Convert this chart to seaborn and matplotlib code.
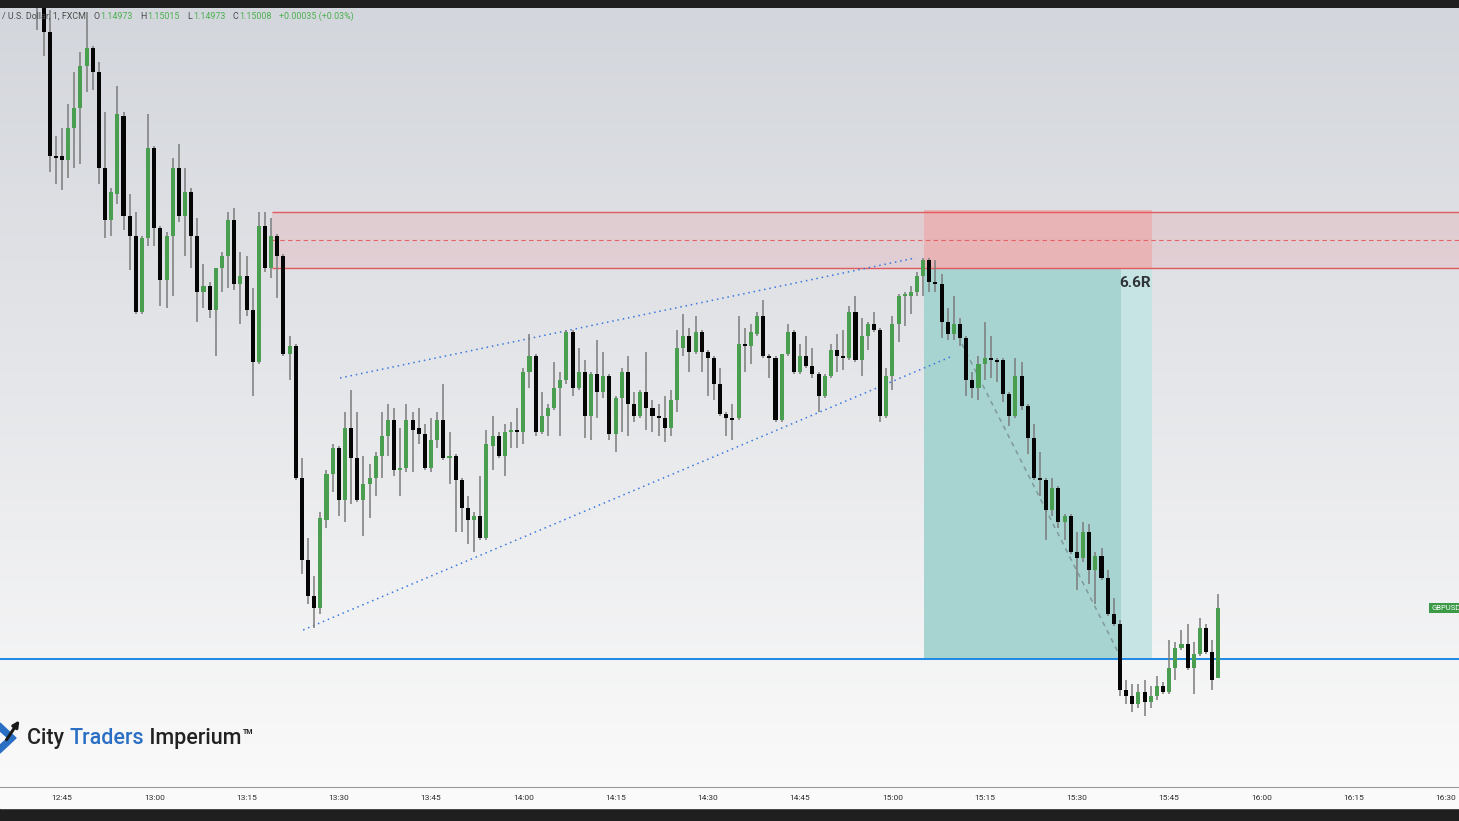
import numpy as np
import pandas as pd
import matplotlib
matplotlib.use("Agg")
import matplotlib.pyplot as plt
import seaborn as sns
from matplotlib.colors import LinearSegmentedColormap
from matplotlib.offsetbox import TextArea, HPacker, AnchoredOffsetbox
from matplotlib.patches import Rectangle, Polygon, FancyArrowPatch

# 1-minute GBP/USD candles, first one at 12:41 (minutes counted from 12:45)
# prices in 1e-5 units
first_minute = -4
opens = [115322,
         115314, 115296, 115234, 115234, 115232, 115248, 115258, 115279, 115288, 115276,
         115228, 115202, 115215, 115254, 115204, 115194, 115156, 115193, 115238, 115198,
         115172, 115194, 115228, 115204, 115216, 115194,
         115166, 115169, 115157, 115178, 115184, 115202, 115170, 115174, 115157, 115131,
         115199, 115178, 115194, 115184, 115135, 115139, 115073, 115032, 115014, 115008,
         115052, 115075, 115088, 115062, 115098, 115083,
         115062, 115070, 115073, 115084, 115094, 115102, 115077, 115078, 115102, 115098,
         115095, 115078, 115092, 115102, 115083, 115084, 115072, 115058, 115052, 115054,
         115043, 115089, 115094, 115084, 115096, 115097,
         115096, 115126, 115134, 115096, 115104, 115108, 115118, 115122, 115146, 115118,
         115126, 115104, 115125, 115116, 115124, 115095, 115113, 115126, 115110, 115104,
         115116, 115108, 115104, 115103, 115098, 115112,
         115138, 115144, 115136, 115146, 115136, 115133, 115120, 115105, 115103, 115103,
         115140, 115139, 115145, 115154, 115134, 115133, 115102, 115135, 115146, 115126,
         115134, 115129, 115125, 115114, 115124, 115137,
         115134, 115133, 115156, 115132, 115144, 115150, 115147, 115104, 115124, 115150,
         115164, 115164, 115166, 115174, 115182, 115171, 115170, 115151, 115145, 115150,
         115143, 115122, 115118, 115130, 115133, 115132,
         115132, 115115, 115104, 115124, 115109, 115093, 115073, 115072, 115057, 115068,
         115051, 115054, 115036, 115033, 115046, 115027, 115034, 115023, 115005, 115000,
         114967, 114964, 114960, 114966, 114961, 114964,
         114969, 114966, 114978, 114988, 114990, 114978, 114985, 114998, 114986, 114973]
highs = [115327,
         115318, 115307, 115244, 115248, 115260, 115276, 115286, 115306, 115289, 115281,
         115256, 115218, 115269, 115256, 115215, 115206, 115194, 115255, 115239, 115199,
         115196, 115233, 115240, 115228, 115218, 115203,
         115180, 115171, 115178, 115186, 115206, 115208, 115186, 115184, 115168, 115206,
         115206, 115203, 115195, 115185, 115144, 115140, 115083, 115043, 115024, 115056,
         115077, 115090, 115089, 115106, 115117, 115106,
         115084, 115080, 115086, 115106, 115110, 115108, 115098, 115110, 115106, 115108,
         115100, 115103, 115106, 115120, 115096, 115085, 115073, 115064, 115056, 115074,
         115097, 115104, 115096, 115100, 115101, 115108,
         115128, 115145, 115135, 115116, 115110, 115131, 115126, 115147, 115147, 115138,
         115132, 115126, 115142, 115136, 115125, 115114, 115128, 115134, 115116, 115117,
         115136, 115112, 115110, 115114, 115117, 115147,
         115155, 115148, 115154, 115147, 115137, 115134, 115128, 115106, 115110, 115154,
         115148, 115150, 115156, 115162, 115135, 115134, 115135, 115150, 115147, 115140,
         115144, 115138, 115126, 115125, 115140, 115145,
         115147, 115159, 115164, 115153, 115151, 115156, 115148, 115128, 115154, 115165,
         115166, 115169, 115176, 115183, 115183, 115182, 115175, 115158, 115164, 115153,
         115144, 115126, 115134, 115151, 115144, 115133,
         115133, 115116, 115133, 115131, 115110, 115100, 115086, 115073, 115073, 115069,
         115055, 115055, 115046, 115051, 115050, 115036, 115038, 115027, 115013, 115002,
         114972, 114970, 114970, 114972, 114969, 114974,
         114971, 114992, 114991, 114997, 115000, 114991, 115003, 115000, 114992, 115015]
lows = [115297,
        115284, 115226, 115220, 115217, 115223, 115228, 115230, 115266, 115267, 115220,
        115193, 115194, 115210, 115197, 115177, 115155, 115155, 115189, 115189, 115159,
        115158, 115164, 115201, 115184, 115178, 115151,
        115158, 115153, 115134, 115166, 115168, 115167, 115150, 115154, 115114, 115130,
        115176, 115173, 115163, 115134, 115122, 115072, 115025, 115010, 114998, 115005,
        115048, 115066, 115054, 115051, 115060, 115061,
        115044, 115053, 115064, 115073, 115084, 115074, 115064, 115076, 115076, 115090,
        115077, 115076, 115088, 115082, 115070, 115046, 115046, 115040, 115036, 115042,
        115042, 115077, 115083, 115074, 115088, 115088,
        115090, 115118, 115094, 115095, 115094, 115107, 115094, 115120, 115114, 115117,
        115093, 115092, 115103, 115113, 115092, 115086, 115096, 115094, 115101, 115103,
        115097, 115096, 115094, 115091, 115094, 115106,
        115134, 115126, 115135, 115126, 115114, 115112, 115104, 115094, 115092, 115102,
        115126, 115130, 115144, 115133, 115123, 115101, 115101, 115134, 115125, 115125,
        115128, 115123, 115106, 115113, 115123, 115126,
        115127, 115132, 115131, 115124, 115137, 115146, 115101, 115103, 115117, 115141,
        115149, 115155, 115164, 115164, 115166, 115166, 115143, 115142, 115142, 115139,
        115114, 115113, 115112, 115122, 115123, 115121,
        115111, 115099, 115103, 115107, 115085, 115072, 115064, 115042, 115054, 115048,
        115042, 115035, 115017, 115031, 115020, 115010, 115022, 115004, 114999, 114964,
        114960, 114956, 114958, 114954, 114958, 114962,
        114965, 114965, 114972, 114987, 114977, 114965, 114984, 114985, 114967, 114973]
closes = [115314,
          115296, 115234, 115233, 115232, 115248, 115258, 115279, 115288, 115276, 115228,
          115202, 115216, 115255, 115204, 115194, 115156, 115193, 115238, 115198, 115172,
          115194, 115228, 115204, 115216, 115194, 115166,
          115169, 115157, 115178, 115184, 115202, 115170, 115174, 115157, 115131, 115199,
          115178, 115194, 115184, 115135, 115139, 115073, 115032, 115014, 115008, 115053,
          115075, 115088, 115062, 115098, 115083, 115062,
          115070, 115073, 115084, 115094, 115102, 115077, 115078, 115102, 115097, 115095,
          115078, 115092, 115102, 115083, 115084, 115072, 115058, 115052, 115054, 115043,
          115090, 115094, 115084, 115096, 115097, 115096,
          115126, 115134, 115096, 115104, 115108, 115118, 115122, 115146, 115118, 115126,
          115104, 115125, 115116, 115124, 115095, 115113, 115126, 115110, 115104, 115116,
          115108, 115104, 115103, 115098, 115112, 115138,
          115144, 115136, 115146, 115136, 115133, 115120, 115105, 115103, 115102, 115140,
          115139, 115146, 115154, 115134, 115133, 115102, 115135, 115146, 115126, 115134,
          115129, 115125, 115114, 115124, 115137, 115134,
          115133, 115156, 115132, 115144, 115150, 115147, 115104, 115124, 115150, 115164,
          115165, 115166, 115174, 115182, 115171, 115170, 115151, 115145, 115150, 115143,
          115122, 115118, 115130, 115133, 115132, 115131,
          115115, 115104, 115124, 115109, 115093, 115073, 115072, 115057, 115068, 115051,
          115054, 115036, 115033, 115046, 115027, 115034, 115023, 115005, 115000, 114967,
          114964, 114960, 114966, 114961, 114964, 114969,
          114966, 114978, 114988, 114990, 114978, 114985, 114998, 114986, 114972, 115008]

tick_minutes = list(range(0, 226, 15))
tick_labels = ["12:45", "13:00", "13:15", "13:30", "13:45", "14:00", "14:15", "14:30",
               "14:45", "15:00", "15:15", "15:30", "15:45", "16:00", "16:15", "16:30"]

# supply zone / short position
zone_top, zone_mid, zone_bottom = 1.15206, 1.15192, 1.15178
zone_start = 34.2
target_price = 1.149825
trade_start, trade_hit, trade_end = 140.2, 172.2, 177.2
rr_label = "6.6R"

# drawn lines (minute, price)
upper_line_t, upper_line_p = [45.2, 138.7], [1.15123, 1.15183]
lower_line_t, lower_line_p = [39.2, 144.4], [1.14997, 1.151335]
move_line_t, move_line_p = [146.3, 172.0], [1.15140, 1.14984]

header_values = [("O", "1.14973"), ("H", "1.15015"), ("L", "1.14973"), ("C", "1.15008")]
header_change = "+0.00035 (+0.03%)"

df = pd.DataFrame({"open": opens, "high": highs, "low": lows, "close": closes}) / 1e5
df["minute"] = first_minute + np.arange(len(df))

sns.set_theme(style="white")
plt.rcParams["font.family"] = ["Roboto", "DejaVu Sans"]

W, H = 1459, 821
fig = plt.figure(figsize=(W / 100, H / 100), dpi=100, facecolor="#1f1f1f")
ax = fig.add_axes([0, 34 / H, 1, 779 / H])

# time-axis strip (behind the axes so tick labels stay visible)
fig.patches.append(Rectangle((0, 13 / H), 1, 21 / H, transform=fig.transFigure,
                             color="#fafafa", zorder=-1))

xmin, xmax = -62 / 6.151, (W - 62) / 6.151
ymin, ymax = 1.149185, 1.15308

bg = LinearSegmentedColormap.from_list("bg", ["#d3d6dc", "#e6e7ea", "#fafafa"])
ax.imshow(np.linspace(0, 1, 256).reshape(-1, 1), cmap=bg, aspect="auto",
          extent=[0, 1, 0, 1], transform=ax.transAxes, zorder=0)

# zone
ax.fill_between([zone_start, xmax], zone_bottom, zone_top, color="#f23645", alpha=0.1,
                lw=0, zorder=1)
ax.add_patch(Rectangle((trade_start, zone_bottom), trade_end - trade_start,
                       zone_top - zone_bottom + 0.00001, color="#e8b4b6", lw=0, zorder=1.2))
ax.hlines([zone_top, zone_bottom], zone_start, xmax, color="#e35a5e", lw=1, zorder=1.5)
ax.hlines(zone_mid, zone_start, xmax, color="#e36468", lw=0.8,
          linestyles=(0, (4, 3)), zorder=1.5)

# profit part of the position
ax.add_patch(Rectangle((trade_start, target_price), trade_hit - trade_start,
                       zone_bottom - target_price, color="#a7d3d1", lw=0, zorder=1.2))
ax.add_patch(Rectangle((trade_hit, target_price), trade_end - trade_hit,
                       zone_bottom - target_price, color="#c7e4e4", lw=0, zorder=1.2))
ax.axhline(target_price, color="#1e88e5", lw=1.4, zorder=2)

# trend lines
sns.lineplot(x=upper_line_t, y=upper_line_p, ax=ax, color="#3b78e0", lw=1.1,
             linestyle=(0, (1, 2.5)), zorder=2)
sns.lineplot(x=lower_line_t, y=lower_line_p, ax=ax, color="#3b78e0", lw=1.1,
             linestyle=(0, (1, 2.5)), zorder=2)
sns.lineplot(x=move_line_t, y=move_line_p, ax=ax, color="#7f9a99", lw=1.1,
             linestyle=(0, (3, 3)), zorder=2)

# candles
up = df["close"] >= df["open"]
ax.vlines(df["minute"], df["low"], df["high"], color="#7b7b7b", lw=1.1, zorder=3)
body_low = np.minimum(df["open"], df["close"])
body_h = (df["close"] - df["open"]).abs().clip(lower=1.2e-5)
ax.bar(df["minute"], body_h, bottom=body_low, width=0.66,
       color=np.where(up, "#4a9e4f", "#050505"), lw=0, zorder=4)

ax.text(trade_end - 0.2, 1.151705, rr_label, ha="right", va="center", fontsize=11,
        fontweight="bold", color="#2f3336", zorder=5)
ax.text(222.6, df["close"].iloc[-1], "GBPUSD", fontsize=5.5, color="white",
        ha="left", va="center", clip_on=True, zorder=6,
        bbox=dict(facecolor="#3c9a46", edgecolor="none", pad=1.6))

ax.set_xlim(xmin, xmax)
ax.set_ylim(ymin, ymax)
ax.set_xticks(tick_minutes, tick_labels)
ax.set_yticks([])
ax.tick_params(axis="x", length=0, pad=5.5, labelsize=6, labelcolor="#2e2e2e")
for side in ["top", "left", "right"]:
    ax.spines[side].set_visible(False)
ax.spines["bottom"].set_color("#9a9a9a")
ax.spines["bottom"].set_linewidth(0.8)

# header
hsize = 6.4
parts = [TextArea("/ U.S. Dollar, 1, FXCM", textprops=dict(fontsize=hsize, color="#4a4a4a"))]
for k, v in header_values:
    parts.append(HPacker(children=[
        TextArea(k, textprops=dict(fontsize=hsize, color="#4a4a4a")),
        TextArea(v, textprops=dict(fontsize=hsize, color="#4caf50"))], sep=0.5, pad=0))
parts.append(TextArea(header_change, textprops=dict(fontsize=hsize, color="#4caf50")))
header = HPacker(children=parts, sep=5.5, pad=0, align="baseline")
fig.add_artist(AnchoredOffsetbox(loc="center left", child=header, frameon=False,
                                 bbox_to_anchor=(2 / W, 1 - 16 / H),
                                 bbox_transform=fig.transFigure, pad=0, borderpad=0))

# logo
lsize = 15.5
logo_words = HPacker(children=[
    TextArea("City ", textprops=dict(fontsize=lsize, color="#222222", fontweight="medium")),
    TextArea("Traders", textprops=dict(fontsize=lsize, color="#2a6fc4", fontweight="medium")),
    TextArea(" Imperium", textprops=dict(fontsize=lsize, color="#222222", fontweight="medium"))],
    sep=0, pad=0, align="baseline")
logo = HPacker(children=[logo_words,
                         TextArea("TM", textprops=dict(fontsize=5, color="#222222",
                                                       fontweight="bold"))],
               sep=1, pad=0, align="top")
fig.add_artist(AnchoredOffsetbox(loc="center left", child=logo, frameon=False,
                                 bbox_to_anchor=(27 / W, 1 - 738 / H),
                                 bbox_transform=fig.transFigure, pad=0, borderpad=0))
chevron = [(0, 723), (16, 738), (0, 753), (0, 745), (8, 738), (0, 731)]
fig.patches.append(Polygon([(x / W, 1 - y / H) for x, y in chevron], closed=True,
                           transform=fig.transFigure, color="#2a6fc4"))
fig.patches.append(FancyArrowPatch((5 / W, 1 - 742 / H), (21 / W, 1 - 718 / H),
                                   transform=fig.transFigure, arrowstyle="-|>",
                                   mutation_scale=9, color="#1a1a1a", lw=2.2))

fig.savefig("out.png", dpi=100, facecolor=fig.get_facecolor())
